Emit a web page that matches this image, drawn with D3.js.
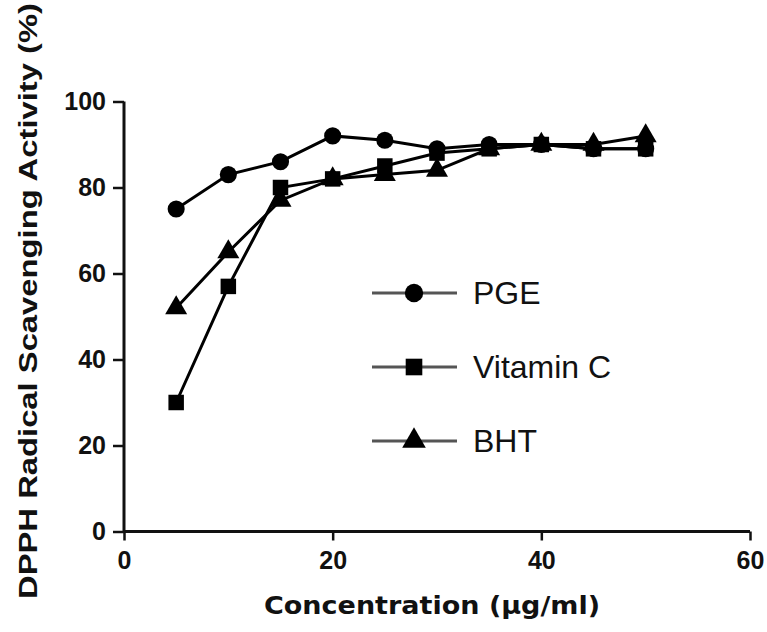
<!DOCTYPE html>
<html><head><meta charset="utf-8">
<script src="https://cdn.jsdelivr.net/npm/d3@7"></script>
<style>html,body{margin:0;padding:0;background:#fff;}</style>
</head><body>
<script>
const concentrations = [5, 10, 15, 20, 25, 30, 35, 40, 45, 50];
const pgeValues      = [75, 83, 86, 92, 91, 89, 90, 90, 89, 89];
const vitaminCValues = [30, 57, 80, 82, 85, 88, 89, 90, 89, 89];
const bhtValues      = [52, 65, 77, 82, 83, 84, 89, 90, 90, 92];
const seriesNames    = ["PGE", "Vitamin C", "BHT"];
const seriesSymbols  = ["circle", "square", "triangle"];
const xTicks = [0, 20, 40, 60];
const yTicks = [0, 20, 40, 60, 80, 100];
const xTitle = "Concentration (µg/ml)";
const yTitle = "DPPH Radical Scavenging Activity (%)";

const W = 767, H = 632;
const svg = d3.select("body").append("svg").attr("width", W).attr("height", H);
const x = d3.scaleLinear().domain([0, 60]).range([124, 750]);
const y = d3.scaleLinear().domain([0, 100]).range([531.5, 101.5]);

const series = [pgeValues, vitaminCValues, bhtValues].map((vals, i) => ({
  name: seriesNames[i], symbol: seriesSymbols[i],
  points: concentrations.map((c, j) => ({x: c, y: vals[j]}))
}));

const symType = {circle: d3.symbolCircle, square: d3.symbolSquare, triangle: d3.symbolTriangle};
const symSize = {circle: 230, square: 240, triangle: 210};

// axes
const xAxis = d3.axisBottom(x).tickValues(xTicks).tickSize(9).tickPadding(11).tickFormat(d3.format("d"));
const yAxis = d3.axisLeft(y).tickValues(yTicks).tickSize(11).tickPadding(7).tickFormat(d3.format("d"));
const gx = svg.append("g").attr("transform", `translate(0,${y(0)})`).call(xAxis);
const gy = svg.append("g").attr("transform", `translate(${x(0)},0)`).call(yAxis);
[gx, gy].forEach(g => {
  g.select(".domain").attr("stroke", "#111").attr("stroke-width", 3);
  g.selectAll(".tick line").attr("stroke", "#111").attr("stroke-width", 2.5);
  g.selectAll(".tick text").attr("fill", "#111")
    .style("font-family", "'Liberation Sans', Arial, sans-serif")
    .style("font-weight", "bold").style("font-size", "25px");
});
gx.select(".domain").attr("d", `M${x(0)},0H${x(60)}`);
gy.select(".domain").attr("d", `M0,${y(0)}V${y(100)}`);

// titles
svg.append("text").attr("x", 432).attr("y", 614).attr("text-anchor", "middle")
  .attr("textLength", 336).attr("lengthAdjust", "spacingAndGlyphs")
  .style("font-family", "'DejaVu Sans', Verdana, sans-serif").style("font-weight", "bold")
  .style("font-size", "25px").attr("fill", "#111").text(xTitle);
svg.append("text").attr("transform", "translate(37,301) rotate(-90)").attr("text-anchor", "middle")
  .attr("textLength", 596).attr("lengthAdjust", "spacingAndGlyphs")
  .style("font-family", "'Liberation Sans', Arial, sans-serif").style("font-weight", "bold")
  .style("font-size", "25px").attr("fill", "#111").text(yTitle);

// lines and markers
const line = d3.line().x(d => x(d.x)).y(d => y(d.y));
const gs = svg.append("g");
series.forEach(s => {
  gs.append("path").datum(s.points).attr("d", line).attr("fill", "none")
    .attr("stroke", "#000").attr("stroke-width", 3);
});
series.forEach(s => {
  gs.selectAll(null).data(s.points).enter().append("path")
    .attr("transform", d => `translate(${x(d.x)},${y(d.y)})`)
    .attr("d", d3.symbol().type(symType[s.symbol]).size(symSize[s.symbol]))
    .attr("fill", "#000");
});

// legend
const legendY = [293, 367, 441];
const lg = svg.append("g");
series.forEach((s, i) => {
  const yy = legendY[i];
  lg.append("line").attr("x1", 372).attr("x2", 457).attr("y1", yy).attr("y2", yy)
    .attr("stroke", "#555").attr("stroke-width", 3);
  lg.append("path").attr("transform", `translate(414,${yy})`)
    .attr("d", d3.symbol().type(symType[s.symbol]).size(symSize[s.symbol] * 1.15)).attr("fill", "#000");
  lg.append("text").attr("x", 473).attr("y", yy + 11)
    .style("font-family", "'Liberation Sans', Arial, sans-serif")
    .style("font-size", "32px").attr("fill", "#111").text(s.name);
});
</script>
</body></html>
